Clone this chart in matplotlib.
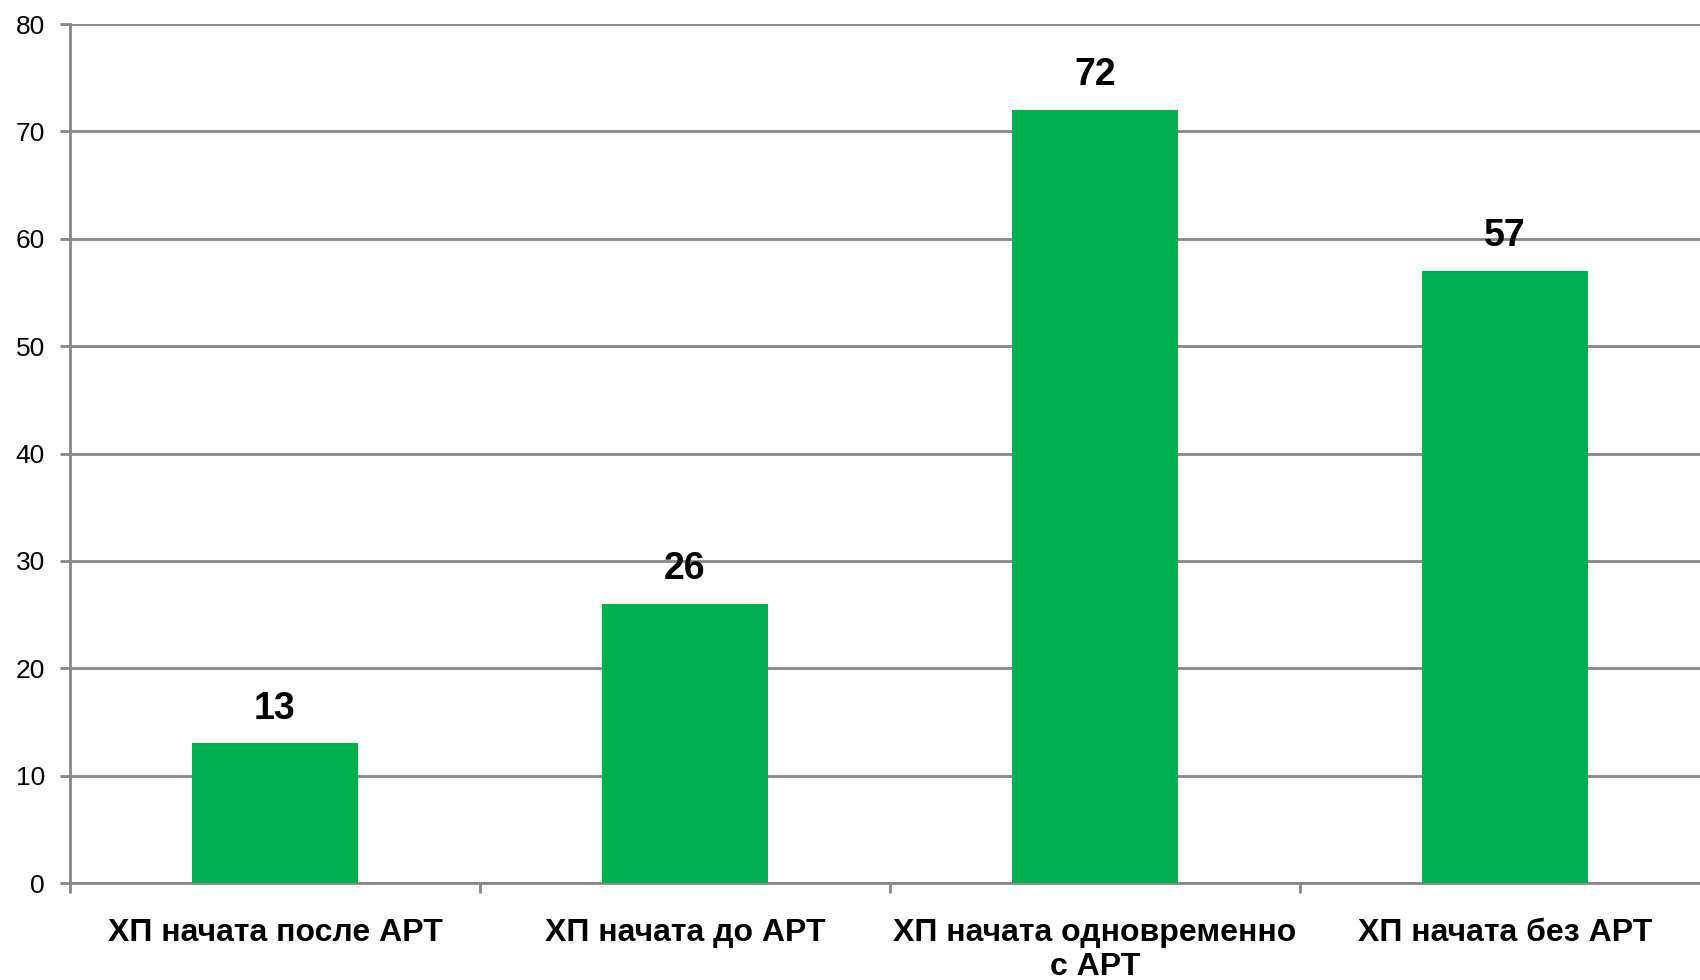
import matplotlib
matplotlib.use('Agg')
import matplotlib.pyplot as plt
from matplotlib.ticker import FixedLocator
import numpy as np

plt.rcParams['font.family'] = ['Liberation Sans', 'DejaVu Sans']

categories = ['ХП начата после АРТ', 'ХП начата до АРТ',
              'ХП начата одновременно\nс АРТ', 'ХП начата без АРТ']
values = [13, 26, 72, 57]
y_ticks = [0, 10, 20, 30, 40, 50, 60, 70, 80]

BAR_COLOR = '#00AF50'
GRID_COLOR = '#878787'

fig = plt.figure(figsize=(17, 9.8), dpi=100)
ax = fig.add_axes([70 / 1700, 97 / 980, 1640 / 1700, 859 / 980])

x = np.arange(len(categories))
ax.bar(x, values, width=0.405, color=BAR_COLOR, zorder=3)

for xi, v in zip(x, values):
    ax.annotate(str(v), (xi, v), xytext=(0, 12), textcoords='offset points',
                ha='center', va='bottom', fontsize=27, fontweight='bold',
                color='black', zorder=4)

ax.set_xlim(-0.5, len(categories) - 0.5)
ax.set_ylim(0, 80)
ax.set_yticks(y_ticks)
ax.set_yticklabels([str(t) for t in y_ticks], fontsize=19)

ax.set_xticks(x)
ax.set_xticklabels(categories, fontsize=23, fontweight='bold', linespacing=1.2)
ax.xaxis.set_minor_locator(FixedLocator(np.arange(-0.5, len(categories), 1.0)))
ax.tick_params(axis='x', which='major', length=0, pad=25)
ax.tick_params(axis='x', which='minor', length=7, width=2, color=GRID_COLOR,
               direction='out')
ax.tick_params(axis='y', length=7, width=2, color=GRID_COLOR, pad=11,
               direction='out')

ax.yaxis.grid(True, color=GRID_COLOR, linewidth=2, zorder=1)
ax.set_axisbelow(True)

for side in ('top', 'right'):
    ax.spines[side].set_visible(False)
for side in ('left', 'bottom'):
    ax.spines[side].set_color(GRID_COLOR)
    ax.spines[side].set_linewidth(2)

fig.savefig('out.png', dpi=100)
plt.close(fig)
